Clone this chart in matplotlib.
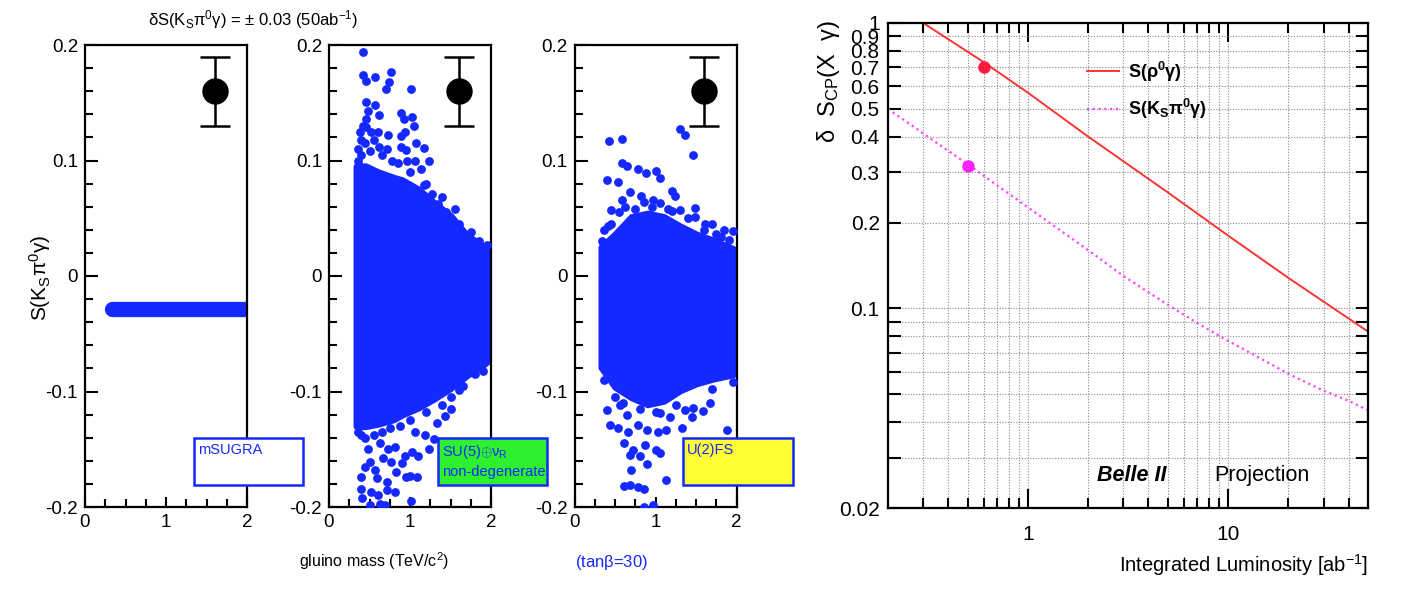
import matplotlib
matplotlib.use('Agg')
import matplotlib.pyplot as plt
from matplotlib.patches import Rectangle
from matplotlib.ticker import NullLocator, FixedLocator

plt.rcParams['font.family'] = ['Liberation Sans', 'DejaVu Sans']
plt.rcParams['mathtext.fontset'] = 'custom'
plt.rcParams['mathtext.rm'] = 'Liberation Sans'
plt.rcParams['mathtext.it'] = 'Liberation Sans:italic'
plt.rcParams['mathtext.bf'] = 'Liberation Sans:bold'

# ---- left: S(K_S pi0 gamma) vs gluino mass, three models ----
model_names = ['mSUGRA', r'SU(5)$\mathrm{\oplus\nu_R}$' + '\nnon-degenerate', 'U(2)FS']
box_colors = ['white', '#2ef02e', '#ffff33']

# mSUGRA: a thin band
msugra_mass = [0.33, 2.0]
msugra_s = [-0.029, -0.029]

# SU(5)+nuR: dense core envelope + scattered points
su5_env_mass = [0.34, 0.45, 0.6, 0.8, 0.9, 1.1, 1.3, 1.5, 1.7, 1.9, 2.0]
su5_env_top = [0.095, 0.095, 0.09, 0.085, 0.083, 0.075, 0.063, 0.052, 0.035, 0.026, 0.023]
su5_env_bot = [-0.13, -0.13, -0.128, -0.124, -0.12, -0.114, -0.106, -0.097, -0.086, -0.077, -0.071]
su5_mass = [0.42, 0.42, 0.46, 0.57, 0.77, 0.74, 0.70, 1.01, 0.455, 0.57, 0.48, 0.62, 0.885, 0.92,
            1.03, 1.05, 0.46, 0.46, 0.61, 0.73, 0.935, 0.885, 1.07, 1.17, 0.89, 0.95, 1.24, 1.06,
            0.96, 1.14, 1.17, 1.27, 0.40, 0.36, 0.40, 0.45, 0.50, 0.55, 0.62, 0.66, 0.72, 0.78,
            0.85, 0.38, 0.42, 0.52, 0.36, 1.35, 1.45, 1.6, 1.75, 1.0, 1.2, 1.4, 1.55, 1.85, 1.95,
            1.386, 1.61, 1.51, 1.43, 1.33, 1.30, 1.24, 1.10, 1.02, 0.94, 0.81, 0.73, 0.63, 0.48,
            0.40, 0.50, 0.57, 0.44, 0.39, 0.59, 0.71, 0.83, 0.997, 1.09, 0.955, 0.40, 0.52, 0.61,
            0.71, 0.81, 0.41, 0.50, 0.69, 1.01, 0.63, 0.90, 0.77, 0.67, 1.18, 1.06, 0.36, 0.45,
            0.55, 0.65, 0.75, 0.88, 1.0, 1.2, 1.5, 1.8, 1.65, 1.9, 1.4]
su5_s = [0.194, 0.174, 0.169, 0.172, 0.177, 0.168, 0.162, 0.162, 0.151, 0.148, 0.143, 0.139, 0.141, 0.136,
         0.138, 0.130, 0.136, 0.129, 0.125, 0.122, 0.125, 0.121, 0.115, 0.111, 0.112, 0.109, 0.100, 0.100,
         0.100, 0.093, 0.079, 0.071, 0.118, 0.110, 0.105, 0.115, 0.108, 0.118, 0.112, 0.105, 0.110, 0.100,
         0.098, 0.125, 0.130, 0.125, 0.100, 0.062, 0.055, 0.045, 0.038, 0.09, 0.08, 0.068, 0.058, 0.03, 0.027,
         -0.093, -0.099, -0.115, -0.121, -0.127, -0.141, -0.150, -0.156, -0.152, -0.156, -0.148, -0.150, -0.145, -0.150,
         -0.138, -0.161, -0.168, -0.165, -0.174, -0.175, -0.178, -0.170, -0.173, -0.174, -0.174, -0.184, -0.187, -0.190,
         -0.185, -0.187, -0.192, -0.198, -0.198, -0.195, -0.197, -0.162, -0.161, -0.158, -0.138, -0.135, -0.135, -0.14,
         -0.138, -0.135, -0.132, -0.13, -0.125, -0.118, -0.105, -0.085, -0.095, -0.082, -0.112]

# U(2)FS
u2_env_mass = [0.33, 0.5, 0.7, 0.9, 1.1, 1.3, 1.5, 1.7, 1.9, 2.0]
u2_env_top = [0.025, 0.036, 0.051, 0.054, 0.051, 0.043, 0.036, 0.031, 0.025, 0.022]
u2_env_bot = [-0.079, -0.096, -0.105, -0.111, -0.108, -0.099, -0.093, -0.089, -0.086, -0.084]
u2_mass = [1.30, 1.36, 1.46, 0.42, 0.58, 0.59, 0.64, 0.78, 0.88, 1.00, 1.05, 0.40, 0.54, 0.68, 0.82,
           1.20, 1.24, 1.48, 1.48, 1.61, 1.69, 1.84, 1.95, 0.58, 0.97, 1.05, 1.30, 0.45, 0.41, 1.90,
           0.36, 0.45, 0.55, 0.62, 0.75, 0.95, 1.15, 1.4, 1.6, 1.8, 0.34, 0.85, 1.2, 1.75,
           0.40, 0.56, 0.43, 0.53, 0.65, 0.66, 0.78, 0.89, 1.03, 1.13, 1.05, 1.18, 1.32, 1.36, 1.46,
           1.45, 1.59, 1.67, 1.88, 0.61, 0.72, 0.87, 1.00, 1.05, 0.68, 0.80, 0.89, 0.70, 0.61, 0.68,
           0.78, 0.85, 1.13, 0.85, 0.97, 0.36, 0.5, 0.8, 1.25, 1.7, 1.95, 0.6, 1.0]
u2_s = [0.127, 0.122, 0.105, 0.117, 0.119, 0.098, 0.095, 0.093, 0.089, 0.091, 0.085, 0.083, 0.081, 0.073, 0.069,
        0.074, 0.069, 0.059, 0.051, 0.045, 0.045, 0.040, 0.039, 0.066, 0.066, 0.063, 0.057, 0.057, 0.043, 0.031,
        0.040, 0.045, 0.055, 0.060, 0.058, 0.060, 0.058, 0.050, 0.040, 0.034, 0.030, 0.064, 0.056, 0.036,
        -0.116, -0.112, -0.129, -0.132, -0.120, -0.135, -0.129, -0.133, -0.135, -0.133, -0.119, -0.122, -0.132, -0.116, -0.114,
        -0.122, -0.117, -0.110, -0.133, -0.145, -0.151, -0.146, -0.151, -0.153, -0.155, -0.156, -0.163, -0.168, -0.182, -0.181,
        -0.183, -0.184, -0.177, -0.200, -0.198, -0.09, -0.105, -0.115, -0.112, -0.098, -0.092, -0.11, -0.118]

# expected Belle II precision marker
proj_mass = 1.6
proj_s = 0.16
proj_err = 0.03

# ---- right: delta S_CP vs integrated luminosity ----
lumi_rho = [0.3, 0.6, 1, 2, 5, 10, 20, 50]
dS_rho = [1.0, 0.73, 0.57, 0.40, 0.255, 0.18, 0.128, 0.083]
lumi_ks = [0.2, 0.5, 1, 2, 3, 4, 5, 7, 10, 15, 20, 30, 40, 50]
dS_ks = [0.5, 0.32, 0.226, 0.16, 0.13, 0.114, 0.103, 0.089, 0.077, 0.066, 0.059, 0.0515, 0.0475, 0.044]
meas_rho = (0.6, 0.70)
meas_ks = (0.5, 0.315)

blue = '#1428ff'
W, H = 1404, 600
fig = plt.figure(figsize=(W / 100, H / 100), dpi=100)

panel_left = [85, 329, 574.7]
panel_w = 162
bottom = (H - 507) / H
height = 462 / H

envs = [None, (su5_env_mass, su5_env_top, su5_env_bot), (u2_env_mass, u2_env_top, u2_env_bot)]
pts = [None, (su5_mass, su5_s), (u2_mass, u2_s)]

for i in range(3):
    ax = fig.add_axes([panel_left[i] / W, bottom, panel_w / W, height])
    if i == 0:
        ax.plot(msugra_mass, msugra_s, color=blue, lw=11, solid_capstyle='round', zorder=2)
    else:
        em, et, eb = envs[i]
        ax.fill_between(em, eb, et, color=blue, lw=5, edgecolor=blue, zorder=2)
        ax.scatter(pts[i][0], pts[i][1], s=40, color=blue, lw=0, zorder=3, clip_on=True)
    ax.errorbar([proj_mass], [proj_s], yerr=[proj_err], fmt='o', color='black', ms=18,
                capsize=11, elinewidth=1.8, capthick=1.8, zorder=4)
    ax.set_xlim(0, 2)
    ax.set_ylim(-0.2, 0.2)
    ax.set_xticks([0, 1, 2])
    ax.set_xticklabels(['0', '1', '2'])
    ax.xaxis.set_minor_locator(FixedLocator([0.25, 0.5, 0.75, 1.25, 1.5, 1.75]))
    ax.set_yticks([-0.2, -0.1, 0, 0.1, 0.2])
    ax.set_yticklabels(['-0.2', '-0.1', '0', '0.1', '0.2'])
    ax.yaxis.set_minor_locator(FixedLocator([-0.18, -0.16, -0.14, -0.12, -0.08, -0.06, -0.04, -0.02,
                                             0.02, 0.04, 0.06, 0.08, 0.12, 0.14, 0.16, 0.18]))
    ax.tick_params(which='both', direction='in', top=False, right=False, labelsize=13.5, width=1.5, pad=5)
    ax.tick_params(axis='y', which='major', length=9)
    ax.tick_params(axis='y', which='minor', length=6)
    ax.tick_params(axis='x', which='major', length=7)
    ax.tick_params(axis='x', which='minor', length=6)
    for sp in ax.spines.values():
        sp.set_linewidth(1.6)
    # model label box
    ax.add_patch(Rectangle((0.67, 0.048), 0.677, 0.101, transform=ax.transAxes, facecolor=box_colors[i],
                           edgecolor=blue, lw=1.8, clip_on=False, zorder=6))
    ax.text(0.695, 0.138, model_names[i], transform=ax.transAxes, color=blue, fontsize=10.5,
            ha='left', va='top', zorder=7, linespacing=1.3)

fig.text(253 / W, 1 - 20 / H, r'$\mathrm{\delta S(K_S\pi^0\gamma)}$ = ± 0.03 (50ab$^{-1}$)',
         fontsize=12, ha='center', va='center')
fig.text(40 / W, 1 - 278 / H, r'$\mathrm{S(K_S\pi^0\gamma)}$', rotation=90, fontsize=15,
         ha='center', va='center')
fig.text(374 / W, 1 - 561 / H, r'gluino mass (TeV/c$^2$)', fontsize=11.5, ha='center', va='center')
fig.text(611 / W, 1 - 562 / H, r'(tan$\mathrm{\beta}$=30)', fontsize=12, color=blue, ha='center', va='center')

# ---- right panel ----
ax = fig.add_axes([888 / W, (H - 508) / H, 480 / W, 485 / H])
ax.set_xscale('log')
ax.set_yscale('log')
ax.set_xlim(0.2, 50)
ax.set_ylim(0.02, 1)
l1, = ax.plot(lumi_rho, dS_rho, color='#ff3333', lw=1.4, label=r'$\mathbf{S(\rho^0\gamma)}$')
l2, = ax.plot(lumi_ks, dS_ks, color='#ff44ff', lw=1.6, ls=(0, (1, 1.6)), label=r'$\mathbf{S(K_S\pi^0\gamma)}$')
ax.plot([meas_rho[0]], [meas_rho[1]], 'o', color='#ff1a40', ms=8, zorder=5)
ax.plot([meas_ks[0]], [meas_ks[1]], 'o', color='#ff22ff', ms=8, zorder=5)

yt = [0.02, 0.03, 0.04, 0.05, 0.06, 0.07, 0.08, 0.09, 0.1, 0.2, 0.3, 0.4, 0.5, 0.6, 0.7, 0.8, 0.9, 1]
ylab = ['0.02', '', '', '', '', '', '', '', '0.1', '0.2', '0.3', '0.4', '0.5', '0.6', '0.7', '0.8', '0.9', '1']
ax.yaxis.set_major_locator(FixedLocator(yt))
ax.set_yticklabels(ylab)
ax.yaxis.set_minor_locator(NullLocator())
ax.xaxis.set_major_locator(FixedLocator([1, 10]))
ax.set_xticklabels(['1', '10'])
ax.xaxis.set_minor_locator(FixedLocator([0.3, 0.4, 0.5, 0.6, 0.7, 0.8, 0.9, 2, 3, 4, 5, 6, 7, 8, 9,
                                         20, 30, 40]))
ax.xaxis.set_minor_formatter(plt.NullFormatter())
ax.grid(which='both', ls=(0, (1, 1.5)), color='#888888', lw=0.8)
ax.tick_params(which='both', direction='in', top=True, right=True, labelsize=15, width=1.5)
ax.tick_params(axis='y', which='major', length=9, pad=6)
ax.tick_params(axis='x', which='major', length=14, pad=12)
ax.tick_params(axis='x', which='minor', length=7)
for sp in ax.spines.values():
    sp.set_linewidth(1.6)

ax.legend(handles=[l1, l2], loc='upper left', bbox_to_anchor=(0.38, 0.958), frameon=False,
          fontsize=13, handlelength=1.8, labelspacing=0.75, handletextpad=0.5)
ax.text(0.435, 0.066, 'Belle II', transform=ax.transAxes, fontsize=15.5, fontweight='bold',
        fontstyle='italic', ha='left', va='center')
ax.text(0.68, 0.066, 'Projection', transform=ax.transAxes, fontsize=15.5, ha='left', va='center')
ax.set_xlabel(r'Integrated Luminosity [ab$^{-1}$]', fontsize=14.5, loc='right', labelpad=6)
fig.text(828 / W, 1 - 20 / H, r'$\mathrm{\delta\ \ S_{CP}(X\ \ \gamma)}$', rotation=90, fontsize=17,
         ha='center', va='top')

fig.savefig('out.png', dpi=100)
